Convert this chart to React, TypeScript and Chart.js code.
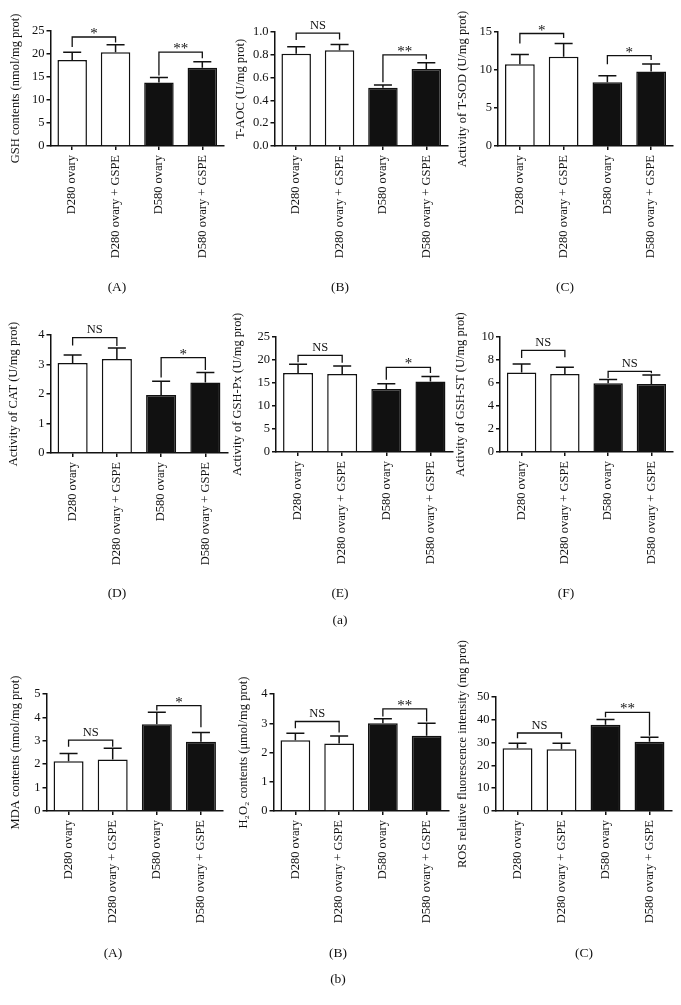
import React, { useEffect, useRef } from 'react';
import { Chart, registerables } from 'chart.js';

Chart.register(...registerables);

const FONT = "'Liberation Serif', 'Times New Roman', serif";
const INK = '#111111';

const GROUPS = ['D280 ovary', 'D280 ovary + GSPE', 'D580 ovary', 'D580 ovary + GSPE'];
const BAR_FILLS = ['#ffffff', '#ffffff', '#111111', '#111111'];

// ---- (a) panels ----
const gshMean = [18.7, 20.4, 13.8, 17.0];
const gshErr = [20.4, 22.0, 14.9, 18.3];
const gshSig = [
  { a: 0, b: 1, text: '*', level: 23.7, endA: 21.5, endB: 22.5 },
  { a: 2, b: 3, text: '**', level: 20.4, endA: 15.3, endB: 19.1 },
];

const taocMean = [0.81, 0.84, 0.51, 0.675];
const taocErr = [0.87, 0.89, 0.535, 0.73];
const taocSig = [
  { a: 0, b: 1, text: 'NS', level: 0.99, endA: 0.93, endB: 0.935 },
  { a: 2, b: 3, text: '**', level: 0.8, endA: 0.56, endB: 0.76 },
];

const tsodMean = [10.75, 11.75, 8.4, 9.8];
const tsodErr = [12.05, 13.5, 9.25, 10.8];
const tsodSig = [
  { a: 0, b: 1, text: '*', level: 14.8, endA: 13.5, endB: 14.2 },
  { a: 2, b: 3, text: '*', level: 11.9, endA: 10.75, endB: 11.3 },
];

const catMean = [3.05, 3.19, 1.97, 2.39];
const catErr = [3.32, 3.56, 2.43, 2.73];
const catSig = [
  { a: 0, b: 1, text: 'NS', level: 3.91, endA: 3.64, endB: 3.63 },
  { a: 2, b: 3, text: '*', level: 3.23, endA: 2.56, endB: 2.81 },
];

const gpxMean = [17.2, 16.95, 13.7, 15.35];
const gpxErr = [19.1, 18.7, 14.85, 16.4];
const gpxSig = [
  { a: 0, b: 1, text: 'NS', level: 21.0, endA: 19.5, endB: 19.4 },
  { a: 2, b: 3, text: '*', level: 18.4, endA: 15.7, endB: 17.2 },
];

const gstMean = [6.92, 6.78, 5.97, 5.91];
const gstErr = [7.65, 7.36, 6.31, 6.7];
const gstSig = [
  { a: 0, b: 1, text: 'NS', level: 8.83, endA: 8.17, endB: 8.23 },
  { a: 2, b: 3, text: 'NS', level: 7.01, endA: 6.43, endB: 6.85 },
];

// ---- (b) panels ----
const mdaMean = [2.13, 2.2, 3.71, 2.96];
const mdaErr = [2.46, 2.68, 4.22, 3.35];
const mdaSig = [
  { a: 0, b: 1, text: 'NS', level: 3.03, endA: 2.75, endB: 2.75 },
  { a: 2, b: 3, text: '*', level: 4.5, endA: 4.29, endB: 3.58 },
];

const h2o2Mean = [2.42, 2.31, 3.0, 2.57];
const h2o2Err = [2.66, 2.56, 3.15, 3.0];
const h2o2Sig = [
  { a: 0, b: 1, text: 'NS', level: 3.06, endA: 2.83, endB: 2.68 },
  { a: 2, b: 3, text: '**', level: 3.49, endA: 3.23, endB: 3.06 },
];

const rosMean = [27.5, 27.1, 37.8, 30.4];
const rosErr = [29.7, 29.7, 40.1, 32.3];
const rosSig = [
  { a: 0, b: 1, text: 'NS', level: 34.2, endA: 31.9, endB: 31.9 },
  { a: 2, b: 3, text: '**', level: 43.3, endA: 41.1, endB: 33.0 },
];

// ---- layout of panels (pixel geometry) ----
const PANELS = [
  { title: 'GSH contents (nmol/mg prot)', mean: gshMean, err: gshErr, sig: gshSig, max: 25, step: 5, dec: 0,
    axisX: 50, right: 223.5, yTop: 31, bottom: 146, titleX: 15 },
  { title: 'T-AOC (U/mg prot)', mean: taocMean, err: taocErr, sig: taocSig, max: 1, step: 0.2, dec: 1,
    axisX: 274, right: 447.5, yTop: 32, bottom: 146, titleX: 240 },
  { title: 'Activity of T-SOD (U/mg prot)', mean: tsodMean, err: tsodErr, sig: tsodSig, max: 15, step: 5, dec: 0,
    axisX: 497.5, right: 672.5, yTop: 32, bottom: 146, titleX: 462 },
  { title: 'Activity of CAT (U/mg prot)', mean: catMean, err: catErr, sig: catSig, max: 4, step: 1, dec: 0,
    axisX: 50, right: 227, yTop: 334.5, bottom: 452.3, titleX: 13 },
  { title: 'Activity of GSH-Px (U/mg prot)', mean: gpxMean, err: gpxErr, sig: gpxSig, max: 25, step: 5, dec: 0,
    axisX: 275.5, right: 452, yTop: 337.3, bottom: 452.3, titleX: 237 },
  { title: 'Activity of GSH-ST (U/mg prot)', mean: gstMean, err: gstErr, sig: gstSig, max: 10, step: 2, dec: 0,
    axisX: 499.5, right: 672.5, yTop: 337.3, bottom: 452.3, titleX: 460 },
  { title: 'MDA contents (nmol/mg prot)', mean: mdaMean, err: mdaErr, sig: mdaSig, max: 5, step: 1, dec: 0,
    axisX: 46, right: 222.5, yTop: 694, bottom: 811, titleX: 15 },
  { title: 'H\u2082O\u2082 contents (\u03BCmol/mg prot)', mean: h2o2Mean, err: h2o2Err, sig: h2o2Sig, max: 4, step: 1, dec: 0,
    axisX: 273, right: 448, yTop: 694.3, bottom: 811, titleX: 243 },
  { title: 'ROS relative fluorescence intensity (mg prot)', mean: rosMean, err: rosErr, sig: rosSig, max: 50, step: 10, dec: 0,
    axisX: 495, right: 671, yTop: 696.7, bottom: 811, titleX: 462 },
];

const LABELS = [
  { text: '(A)', x: 117, y: 287 }, { text: '(B)', x: 340, y: 287 }, { text: '(C)', x: 565, y: 287 },
  { text: '(D)', x: 117, y: 593 }, { text: '(E)', x: 340, y: 593 }, { text: '(F)', x: 566, y: 593 },
  { text: '(a)', x: 340, y: 620 },
  { text: '(A)', x: 113, y: 953 }, { text: '(B)', x: 338, y: 953 }, { text: '(C)', x: 584, y: 953 },
  { text: '(b)', x: 338, y: 979 },
];

const FS = 12.5;
const PAD_TOP = 90;
const PAD_RIGHT = 6;
const X_AXIS_H = 130;

const annotPlugin = {
  id: 'annot',
  afterDatasetsDraw(chart: any, _args: any, opts: any) {
    const { ctx } = chart;
    const y = chart.scales.y;
    const meta = chart.getDatasetMeta(0);
    ctx.save();
    ctx.strokeStyle = INK;
    ctx.fillStyle = INK;
    ctx.lineWidth = 1.5;
    ctx.lineCap = 'butt';
    meta.data.forEach((bar: any, i: number) => {
      const x = bar.x;
      const yTop = bar.y;
      const yCap = y.getPixelForValue(opts.err[i]);
      ctx.beginPath();
      ctx.moveTo(x, yTop);
      ctx.lineTo(x, yCap);
      ctx.moveTo(x - 9, yCap);
      ctx.lineTo(x + 9, yCap);
      ctx.stroke();
    });
    ctx.lineWidth = 1.3;
    opts.sig.forEach((s: any) => {
      const x1 = meta.data[s.a].x;
      const x2 = meta.data[s.b].x;
      const yl = y.getPixelForValue(s.level);
      ctx.beginPath();
      ctx.moveTo(x1, y.getPixelForValue(s.endA));
      ctx.lineTo(x1, yl);
      ctx.lineTo(x2, yl);
      ctx.lineTo(x2, y.getPixelForValue(s.endB));
      ctx.stroke();
      const isStar = s.text.indexOf('*') >= 0;
      ctx.font = `${isStar ? 15 : FS}px ${FONT}`;
      ctx.textAlign = 'center';
      ctx.textBaseline = 'alphabetic';
      ctx.fillText(s.text, (x1 + x2) / 2, yl - (isStar ? -1 : 4.5));
    });
    ctx.restore();
  },
};

function Panel({ p }: { p: any }) {
  const ref = useRef<HTMLCanvasElement | null>(null);
  const left = p.titleX - (FS * 1.2) / 2;
  const wy = p.axisX - left;
  const width = Math.round(wy + (p.right - p.axisX) + PAD_RIGHT);
  const top = p.yTop - PAD_TOP;
  const height = Math.round(PAD_TOP + (p.bottom - p.yTop) + X_AXIS_H);

  useEffect(() => {
    if (!ref.current) return;
    const chart = new Chart(ref.current, {
      type: 'bar',
      data: {
        labels: GROUPS,
        datasets: [
          {
            data: p.mean,
            backgroundColor: BAR_FILLS,
            borderColor: INK,
            borderWidth: 1.5,
            barPercentage: 0.68,
            categoryPercentage: 1,
          },
        ],
      },
      options: {
        animation: false,
        responsive: false,
        maintainAspectRatio: false,
        devicePixelRatio: 1,
        layout: { padding: { top: PAD_TOP, right: width - wy - (p.right - p.axisX), left: 0, bottom: 0 } },
        plugins: {
          legend: { display: false },
          tooltip: { enabled: false },
          annot: { err: p.err, sig: p.sig },
        } as any,
        scales: {
          x: {
            offset: true,
            grid: { display: true, drawOnChartArea: false, drawTicks: true, tickLength: 4, color: INK, lineWidth: 1.5, offset: false },
            border: { display: true, color: INK, width: 1.5 },
            ticks: {
              autoSkip: false,
              maxRotation: 90,
              minRotation: 90,
              padding: 5,
              color: INK,
              font: { family: FONT, size: FS },
            },
            afterFit: (scale: any) => {
              scale.height = X_AXIS_H;
            },
          },
          y: {
            min: 0,
            max: p.max,
            grid: { display: true, drawOnChartArea: false, drawTicks: true, tickLength: 4, color: INK, lineWidth: 1.5 },
            border: { display: true, color: INK, width: 1.5 },
            ticks: {
              stepSize: p.step,
              padding: 2,
              color: INK,
              font: { family: FONT, size: FS },
              callback: (v: any) => Number(v).toFixed(p.dec),
            },
            title: {
              display: true,
              text: p.title,
              color: INK,
              padding: 0,
              font: { family: FONT, size: FS, lineHeight: 1.2 },
            },
            afterFit: (scale: any) => {
              scale.width = wy;
            },
          },
        },
      },
      plugins: [annotPlugin],
    } as any);
    return () => chart.destroy();
  }, []);

  return (
    <canvas
      ref={ref}
      width={width}
      height={height}
      style={{ position: 'absolute', left, top, width, height }}
    />
  );
}

export default function App() {
  return (
    <div
      style={{
        position: 'absolute',
        left: 0,
        top: 0,
        width: 681,
        height: 1005,
        background: '#ffffff',
        overflow: 'hidden',
      }}
    >
      {PANELS.map((p, i) => (
        <Panel key={i} p={p} />
      ))}
      {LABELS.map((l, i) => (
        <div
          key={'l' + i}
          style={{
            position: 'absolute',
            left: l.x,
            top: l.y,
            transform: 'translate(-50%, -50%)',
            fontFamily: FONT,
            fontSize: 13.5,
            color: INK,
            whiteSpace: 'nowrap',
            lineHeight: 1,
          }}
        >
          {l.text}
        </div>
      ))}
    </div>
  );
}
